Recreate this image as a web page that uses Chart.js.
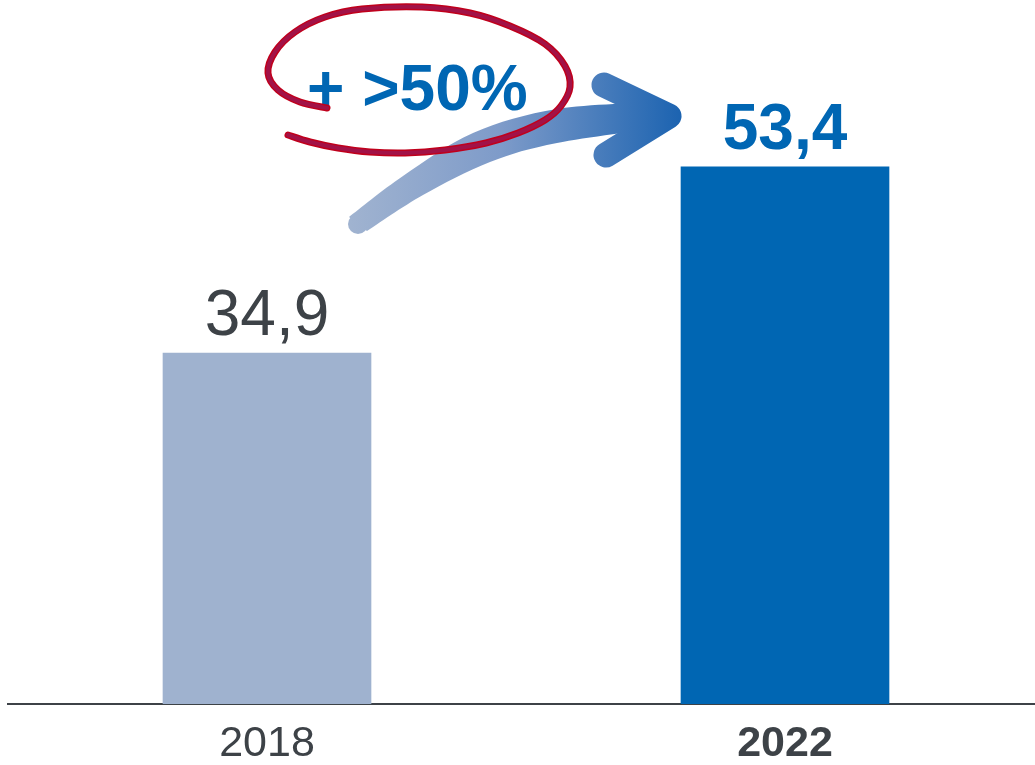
<!DOCTYPE html>
<html>
<head>
<meta charset="utf-8">
<script src="https://cdn.jsdelivr.net/npm/chart.js@4"></script>
<style>
html,body{margin:0;padding:0;overflow:hidden;background:#fff;}
#wrap{width:1044px;height:765px;}
</style>
</head>
<body>
<div id="wrap"><canvas id="c" width="1044" height="765"></canvas></div>
<script>
const categories = ['2018', '2022'];
const values = [34.9, 53.4];
const valueLabels = ['34,9', '53,4'];
const barColors = ['#9fb2cf', '#0066b3'];
const growthLabel = '+ >50%';

const FONT = '"Liberation Sans", Arial, sans-serif';
const DARK = '#3d4247';
const BLUE = '#0066b3';

function smoothPath(ctx, pts, move) {
  if (move) ctx.moveTo(pts[0][0], pts[0][1]);
  for (let i = 0; i < pts.length - 1; i++) {
    const p0 = pts[i - 1] || pts[i], p1 = pts[i], p2 = pts[i + 1], p3 = pts[i + 2] || pts[i + 1];
    ctx.bezierCurveTo(p1[0] + (p2[0] - p0[0]) / 6, p1[1] + (p2[1] - p0[1]) / 6,
                      p2[0] - (p3[0] - p1[0]) / 6, p2[1] - (p3[1] - p1[1]) / 6,
                      p2[0], p2[1]);
  }
}

const labelsPlugin = {
  id: 'valueLabels',
  afterDatasetsDraw(chart) {
    const ctx = chart.ctx;
    const meta = chart.getDatasetMeta(0);
    ctx.save();
    ctx.textAlign = 'center';
    ctx.textBaseline = 'alphabetic';
    meta.data.forEach((bar, i) => {
      const last = i === meta.data.length - 1;
      ctx.font = (last ? 'bold ' : '') + '64px ' + FONT;
      ctx.fillStyle = last ? BLUE : DARK;
      ctx.fillText(valueLabels[i], bar.x, bar.y - 18);
    });
    ctx.restore();
  }
};

const annotPlugin = {
  id: 'annot',
  afterDraw(chart) {
    const ctx = chart.ctx;
    ctx.save();
    // arrow
    const g = ctx.createLinearGradient(350, 0, 685, 0);
    g.addColorStop(0, '#a0b3d0');
    g.addColorStop(0.45, '#7e9bc9');
    g.addColorStop(1, '#1a62b0');
    ctx.fillStyle = g;
    ctx.strokeStyle = g;
    ctx.beginPath();
    smoothPath(ctx, [[349, 217], [403, 176], [473, 133], [557, 109], [660, 102]], true);
    ctx.lineTo(660, 128);
    smoothPath(ctx, [[660, 128], [557, 143], [490, 162], [423, 195], [367, 231]], false);
    ctx.closePath();
    ctx.fill();
    ctx.beginPath();
    ctx.arc(358, 224, 10, 0, Math.PI * 2);
    ctx.fill();
    ctx.lineWidth = 25;
    ctx.lineCap = 'round';
    ctx.lineJoin = 'round';
    ctx.beginPath();
    ctx.moveTo(604, 85);
    ctx.lineTo(669, 116);
    ctx.lineTo(606, 155);
    ctx.stroke();

    // growth text
    ctx.font = 'bold 64px ' + FONT;
    ctx.fillStyle = BLUE;
    ctx.textAlign = 'left';
    ctx.textBaseline = 'alphabetic';
    ctx.fillText(growthLabel, 307, 110);

    // red hand-drawn loop
    const loop = [[327,108],[300,102],[278,90],[268,73],[275,52],[295,32],[325,17],[362,9],[422,7],[470,13],[510,26],[545,44],[565,66],[570,87],[561,106],[545,120],[518,133],[486,143],[445,150],[405,153],[370,152],[338,148],[310,142],[288,135]];
    ctx.lineCap = 'round';
    ctx.lineJoin = 'round';
    ctx.beginPath();
    smoothPath(ctx, loop, true);
    ctx.strokeStyle = '#c0001c';
    ctx.lineWidth = 7;
    ctx.stroke();
    ctx.beginPath();
    smoothPath(ctx, loop, true);
    ctx.strokeStyle = '#a21247';
    ctx.lineWidth = 4;
    ctx.stroke();
    ctx.restore();
  }
};

new Chart(document.getElementById('c'), {
  type: 'bar',
  data: {
    labels: categories,
    datasets: [{
      data: values,
      backgroundColor: barColors,
      borderWidth: 0,
      barThickness: 208
    }]
  },
  options: {
    responsive: false,
    animation: false,
    devicePixelRatio: 1,
    layout: { padding: { left: 8, right: 0, top: 0, bottom: 0 } },
    plugins: { legend: { display: false }, tooltip: { enabled: false } },
    scales: {
      y: { display: false, min: 0, max: 70 },
      x: {
        afterFit(scale) { scale.height = 61; },
        grid: { display: false, drawTicks: false },
        border: { display: true, color: DARK, width: 2 },
        ticks: {
          padding: 14,
          color: DARK,
          font: (c) => ({ family: FONT, size: 43, weight: c.index === 1 ? 'bold' : 'normal' })
        }
      }
    }
  },
  plugins: [labelsPlugin, annotPlugin]
});
</script>
</body>
</html>
